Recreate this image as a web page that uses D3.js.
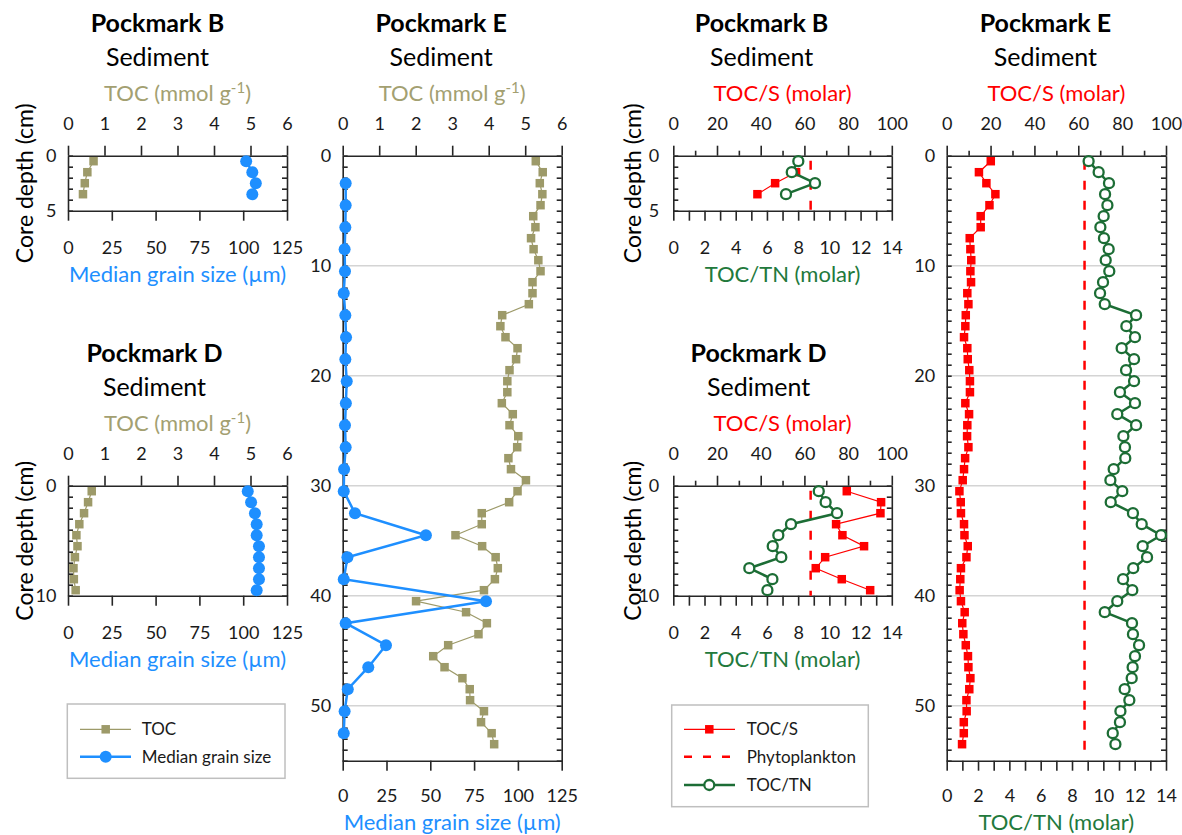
<!DOCTYPE html>
<html><head><meta charset="utf-8">
<script src="https://cdn.jsdelivr.net/npm/d3@7"></script>
<style>body{margin:0;background:#fff} svg{display:block} text{font-family:Lato,"Open Sans",sans-serif}</style>
</head><body><svg id="c" width="1182" height="835"></svg>
<script>
// ---------------- DATA ----------------
const depthB = [0.5, 1.5, 2.5, 3.5];
const tocB = [0.70, 0.53, 0.46, 0.41];
const grainB = [101.7, 105.2, 107.2, 105.2];
const depthTocsB = [1.5, 2.5, 3.5];
const tocsB = [56.2, 46.6, 38.5];
const toctnB = [8.01, 7.59, 9.08, 7.22];

const depthD = [0.5, 1.5, 2.5, 3.5, 4.5, 5.5, 6.5, 7.5, 8.5, 9.5];
const tocD = [0.65, 0.55, 0.44, 0.31, 0.23, 0.26, 0.19, 0.15, 0.16, 0.21];
const grainD = [102.6, 104.5, 106.7, 107.7, 107.7, 109.0, 109.0, 109.0, 109.0, 107.7];
const tocsD = [79.4, 95.1, 94.8, 74.5, 77.4, 87.3, 69.5, 65.2, 77.1, 90.1];
const toctnD = [9.32, 9.76, 10.49, 7.54, 6.73, 6.37, 6.92, 4.87, 6.35, 6.03];

const depthE = [0.5, 1.5, 2.5, 3.5, 4.5, 5.5, 6.5, 7.5, 8.5, 9.5,
  10.5, 11.5, 12.5, 13.5, 14.5, 15.5, 16.5, 17.5, 18.5, 19.5,
  20.5, 21.5, 22.5, 23.5, 24.5, 25.5, 26.5, 27.5, 28.5, 29.5,
  30.5, 31.5, 32.5, 33.5, 34.5, 35.5, 36.5, 37.5, 38.5, 39.5,
  40.5, 41.5, 42.5, 43.5, 44.5, 45.5, 46.5, 47.5, 48.5, 49.5,
  50.5, 51.5, 52.5, 53.5];
const tocE = [5.29, 5.48, 5.40, 5.47, 5.42, 5.22, 5.28, 5.16, 5.23, 5.36,
  5.42, 5.20, 5.20, 5.10, 4.37, 4.32, 4.46, 4.79, 4.75, 4.57,
  4.51, 4.51, 4.36, 4.66, 4.57, 4.81, 4.78, 4.54, 4.61, 5.02,
  4.79, 4.56, 3.81, 3.81, 3.09, 3.82, 4.19, 4.25, 4.17, 3.87,
  2.01, 3.38, 3.95, 3.72, 2.89, 2.48, 2.79, 3.28, 3.48, 3.49,
  3.87, 3.79, 4.08, 4.15];
const depthGrainE = [2.5, 4.5, 6.5, 8.5, 10.5, 12.5, 14.5, 16.5, 18.5, 20.5,
  22.5, 24.5, 26.5, 28.5, 30.5, 32.5, 34.5, 36.5, 38.5, 40.5,
  42.5, 44.5, 46.5, 48.5, 50.5, 52.5];
const grainE = [1.7, 1.7, 1.5, 1.1, 1.3, 0.6, 1.5, 1.9, 1.5, 2.3,
  1.8, 1.3, 1.7, 0.8, 0.6, 7.0, 47.5, 2.7, 0.6, 81.8,
  1.7, 24.7, 14.6, 2.9, 1.1, 0.6];
const tocsE = [20.1, 14.7, 18.1, 22.2, 19.5, 15.5, 15.5, 10.5, 10.8, 11.2,
  10.8, 11.1, 9.4, 9.9, 8.7, 8.5, 7.9, 9.4, 9.6, 10.3,
  10.6, 10.6, 8.5, 10.2, 9.4, 9.3, 9.9, 8.4, 7.9, 7.3,
  5.8, 6.4, 6.5, 7.9, 8.1, 9.6, 9.0, 6.5, 6.2, 5.9,
  6.5, 8.2, 7.1, 7.6, 8.7, 9.7, 9.9, 10.8, 10.3, 9.0,
  9.1, 7.8, 7.8, 7.0];
const toctnE = [9.06, 9.70, 10.36, 10.11, 10.26, 10.02, 9.81, 10.04, 10.34, 10.15,
  10.38, 9.98, 9.79, 10.09, 12.09, 11.47, 12.02, 11.17, 11.96, 11.45,
  11.96, 11.06, 12.02, 10.89, 12.09, 11.28, 11.38, 11.40, 10.66, 10.45,
  11.21, 10.47, 11.89, 12.45, 13.68, 12.51, 12.79, 11.91, 11.26, 11.85,
  10.89, 10.09, 11.83, 11.89, 12.28, 12.02, 11.87, 11.81, 11.36, 11.66,
  11.09, 11.06, 10.60, 10.77];
const phytoplankton = 8.8; // TOC/TN (molar)

const tocTicks = [0, 1, 2, 3, 4, 5, 6];
const grainTicks = [0, 25, 50, 75, 100, 125];
const tocsTicks = [0, 20, 40, 60, 80, 100];
const tocsMinor = [10, 30, 50, 70, 90];
const toctnTicks = [0, 1, 2, 3, 4, 5, 6, 7, 8, 9, 10, 11, 12, 13, 14];
const toctnLabels = [0, 2, 4, 6, 8, 10, 12, 14];

// ---------------- STYLE ----------------
const C = {olive: '#9d9a69', oliveText: '#a3a071', blue: '#1e8fff', red: '#ff0000', green: '#1c6d35', greenText: '#22793c', axis: '#262626', text: '#1a1a1a', grid: '#d4d4d4'};
const PX = 11; // px per cm depth
const svg = d3.select('#c');
const fmt = d3.format('d');

function range(a, b) { const r = []; for (let i = a; i <= b; i++) r.push(i); return r; }

function styleAxis(sel, fs) {
  sel.attr('color', C.axis).attr('font-family', null).attr('font-size', null);
  sel.selectAll('path,line').attr('stroke-width', 1.6);
  sel.selectAll('text').attr('fill', C.text).attr('font-size', fs);
}

function panel(p) {
  const x0 = p.left, x1 = p.left + p.width, y0 = p.top, y1 = p.top + p.depthMax * PX;
  const y = d3.scaleLinear().domain([0, p.depthMax]).range([y0, y1]);
  const xt = d3.scaleLinear().domain(p.topDomain).range([x0, x1]);
  const xb = d3.scaleLinear().domain(p.botDomain).range([x0, x1]);
  const g = svg.append('g');
  g.selectAll('line.grid').data(p.grid).join('line').attr('class', 'grid')
    .attr('x1', x0).attr('x2', x1).attr('y1', d => y(d)).attr('y2', d => y(d))
    .attr('stroke', C.grid).attr('stroke-width', 1.5);
  const dTicks = range(0, p.depthMax);
  g.append('g').attr('transform', `translate(${x0},0)`)
    .call(d3.axisLeft(y).tickValues(dTicks).tickSizeInner(-5).tickSizeOuter(0).tickPadding(p.labelPad)
      .tickFormat(d => p.depthLabels.includes(d) ? fmt(d) : ''))
    .call(s => styleAxis(s, 18));
  g.append('g').attr('transform', `translate(${x1},0)`)
    .call(d3.axisRight(y).tickValues(dTicks).tickSizeInner(-5).tickSizeOuter(0).tickFormat(''))
    .call(s => styleAxis(s, 18));
  g.append('g').attr('transform', `translate(0,${y0})`)
    .call(d3.axisTop(xt).tickValues(p.topTicks).tickSizeInner(10).tickSizeOuter(0).tickPadding(15.5).tickFormat(fmt))
    .call(s => styleAxis(s, 18));
  if (p.topMinor) g.append('g').attr('transform', `translate(0,${y0})`)
    .call(d3.axisTop(xt).tickValues(p.topMinor).tickSize(5).tickFormat(''))
    .call(s => { s.select('.domain').remove(); styleAxis(s, 18); });
  g.append('g').attr('transform', `translate(0,${y1})`)
    .call(d3.axisBottom(xb).tickValues(p.botTicks).tickSizeInner(10).tickSizeOuter(0).tickPadding(p.botPad)
      .tickFormat(d => p.botLabels.includes(d) ? fmt(d) : ''))
    .call(s => styleAxis(s, 18));

  // titles
  const cx = (x0 + x1) / 2;
  g.append('text').attr('x', cx + p.titleDx).attr('y', y0 - 124).attr('text-anchor', 'middle')
    .attr('font-size', 25).attr('font-weight', 'bold').attr('fill', '#000').text(p.title);
  g.append('text').attr('x', cx + p.titleDx).attr('y', y0 - 90).attr('text-anchor', 'middle')
    .attr('font-size', 25).attr('fill', '#000').text('Sediment');
  const tt = g.append('text').attr('x', cx).attr('y', y0 - 55).attr('text-anchor', 'middle')
    .attr('font-size', 22).attr('fill', p.topColor);
  if (p.topSup) {
    tt.append('tspan').text(p.topTitle);
    tt.append('tspan').attr('dy', -8).attr('font-size', 15).text(p.topSup);
    tt.append('tspan').attr('dy', 8).text(')');
  } else tt.text(p.topTitle);
  g.append('text').attr('x', cx).attr('y', y1 + p.botTitleDy).attr('text-anchor', 'middle')
    .attr('font-size', 22).attr('fill', p.botColor).text(p.botTitle);
  if (p.yTitleX !== undefined) {
    const cy = (y0 + y1) / 2;
    g.append('text').attr('transform', `translate(${p.yTitleX},${cy}) rotate(-90)`).attr('text-anchor', 'middle')
      .attr('font-size', 23).attr('fill', '#000').text('Core depth (cm)');
  }
  return {g, y, xt, xb};
}

function lineSeries(g, depths, vals, x, y, color, width, dash) {
  const pts = depths.map((d, i) => [x(vals[i]), y(d)]);
  g.append('path').attr('d', d3.line()(pts)).attr('fill', 'none').attr('stroke', color)
    .attr('stroke-width', width).attr('stroke-dasharray', dash || null);
  return pts;
}
function squares(g, pts, color, size) {
  g.append('g').selectAll('rect').data(pts).join('rect')
    .attr('x', d => d[0] - size / 2).attr('y', d => d[1] - size / 2).attr('width', size).attr('height', size)
    .attr('fill', color);
}
function dots(g, pts, r, fill, stroke, sw) {
  g.append('g').selectAll('circle').data(pts).join('circle')
    .attr('cx', d => d[0]).attr('cy', d => d[1]).attr('r', r).attr('fill', fill)
    .attr('stroke', stroke || 'none').attr('stroke-width', sw || 0);
}

function leftPanel(cfg, depth, toc, grainDepth, grain) {
  const P = panel(Object.assign({
    topDomain: [0, 6], topTicks: tocTicks, botDomain: [0, 125], botTicks: grainTicks, botLabels: grainTicks,
    topTitle: 'TOC (mmol g', topSup: '-1', topColor: C.oliveText, botTitle: 'Median grain size (µm)', botColor: C.blue,
    labelPad: 11.5, botTitleDy: 71, botPad: 21
  }, cfg));
  const tp = lineSeries(P.g, depth, toc, P.xt, P.y, C.olive, 1.2);
  squares(P.g, tp, C.olive, 8.5);
  const bp = lineSeries(P.g, grainDepth, grain, P.xb, P.y, C.blue, 2.5);
  dots(P.g, bp, 6, C.blue);
}
function rightPanel(cfg, tocsDepth, tocs, depth, toctn) {
  const P = panel(Object.assign({
    topDomain: [0, 100], topTicks: tocsTicks, topMinor: tocsMinor, botDomain: [0, 14], botTicks: toctnTicks, botLabels: toctnLabels,
    topTitle: 'TOC/S (molar)', topColor: C.red, botTitle: 'TOC/TN (molar)', botColor: C.greenText, botTitleDy: 71, botPad: 21
  }, cfg));
  const rp = lineSeries(P.g, tocsDepth, tocs, P.xt, P.y, C.red, 1.2);
  squares(P.g, rp, C.red, 8.5);
  const yr = P.y.domain();
  P.g.append('line').attr('x1', P.xb(phytoplankton)).attr('x2', P.xb(phytoplankton))
    .attr('y1', P.y(yr[0])).attr('y2', P.y(yr[1])).attr('stroke', C.red).attr('stroke-width', 2.5)
    .attr('stroke-dasharray', '9,11').attr('stroke-dashoffset', -5);
  const gp = lineSeries(P.g, depth, toctn, P.xb, P.y, C.green, 2.5);
  dots(P.g, gp, 5, '#fff', C.green, 2.3);
}

// Left: TOC & grain size
leftPanel({left: 68, top: 155.7, width: 219, depthMax: 5, depthLabels: [0, 5], grid: [], title: 'Pockmark B', titleDx: -20, yTitleX: 33}, depthB, tocB, depthB, grainB);
leftPanel({left: 68, top: 485.7, width: 219, depthMax: 10, depthLabels: [0, 10], grid: [], title: 'Pockmark D', titleDx: -23, yTitleX: 33}, depthD, tocD, depthD, grainD);
leftPanel({left: 342.7, top: 155.7, width: 219, depthMax: 55, depthLabels: [0, 10, 20, 30, 40, 50], grid: [10, 20, 30, 40, 50], title: 'Pockmark E', titleDx: -11, botTitleDy: 69.5, botPad: 18.5}, depthE, tocE, depthGrainE, grainE);
// Right: TOC/S & TOC/TN
rightPanel({left: 673.3, top: 155.7, width: 218.5, depthMax: 5, depthLabels: [0, 5], grid: [], title: 'Pockmark B', titleDx: -21, yTitleX: 641, labelPad: 14}, depthTocsB, tocsB, depthB, toctnB);
rightPanel({left: 673.3, top: 485.7, width: 218.5, depthMax: 10, depthLabels: [0, 10], grid: [], title: 'Pockmark D', titleDx: -24, yTitleX: 641, labelPad: 14}, depthD, tocsD, depthD, toctnD);
rightPanel({left: 946.7, top: 155.7, width: 219.3, depthMax: 55, depthLabels: [0, 10, 20, 30, 40, 50], grid: [10, 20, 30, 40, 50], title: 'Pockmark E', titleDx: -11, labelPad: 11.5, botTitleDy: 69.5, botPad: 18.5}, depthE, tocsE, depthE, toctnE);

// ---------------- LEGENDS ----------------
function legendBox(x, y, w, h) {
  svg.append('rect').attr('x', x).attr('y', y).attr('width', w).attr('height', h)
    .attr('fill', '#fff').attr('stroke', '#bfbfbf').attr('stroke-width', 1.5);
}
function legendText(x, y, t) {
  svg.append('text').attr('x', x).attr('y', y).attr('dy', '0.35em').attr('font-size', 17).attr('fill', C.text).text(t);
}
legendBox(67.3, 704, 217.7, 74.3);
svg.append('line').attr('x1', 80).attr('x2', 131).attr('y1', 729.3).attr('y2', 729.3).attr('stroke', C.olive).attr('stroke-width', 1.3);
squares(svg, [[105.7, 729.3]], C.olive, 8.5);
legendText(141.7, 729.3, 'TOC');
svg.append('line').attr('x1', 80).attr('x2', 131).attr('y1', 756.7).attr('y2', 756.7).attr('stroke', C.blue).attr('stroke-width', 2.5);
dots(svg, [[105.7, 756.7]], 6, C.blue);
legendText(141.7, 756.7, 'Median grain size');

legendBox(671.7, 705, 196.6, 101.7);
svg.append('line').attr('x1', 684).attr('x2', 735).attr('y1', 729.3).attr('y2', 729.3).attr('stroke', C.red).attr('stroke-width', 1.3);
squares(svg, [[709.3, 729.3]], C.red, 8.5);
legendText(746.7, 729.3, 'TOC/S');
svg.append('line').attr('x1', 684).attr('x2', 735).attr('y1', 756.7).attr('y2', 756.7).attr('stroke', C.red).attr('stroke-width', 2.5).attr('stroke-dasharray', '8,11');
legendText(746.7, 756.7, 'Phytoplankton');
svg.append('line').attr('x1', 684).attr('x2', 735).attr('y1', 785).attr('y2', 785).attr('stroke', C.green).attr('stroke-width', 2.5);
dots(svg, [[709.3, 785]], 5, '#fff', C.green, 2.3);
legendText(746.7, 785, 'TOC/TN');
</script></body></html>
